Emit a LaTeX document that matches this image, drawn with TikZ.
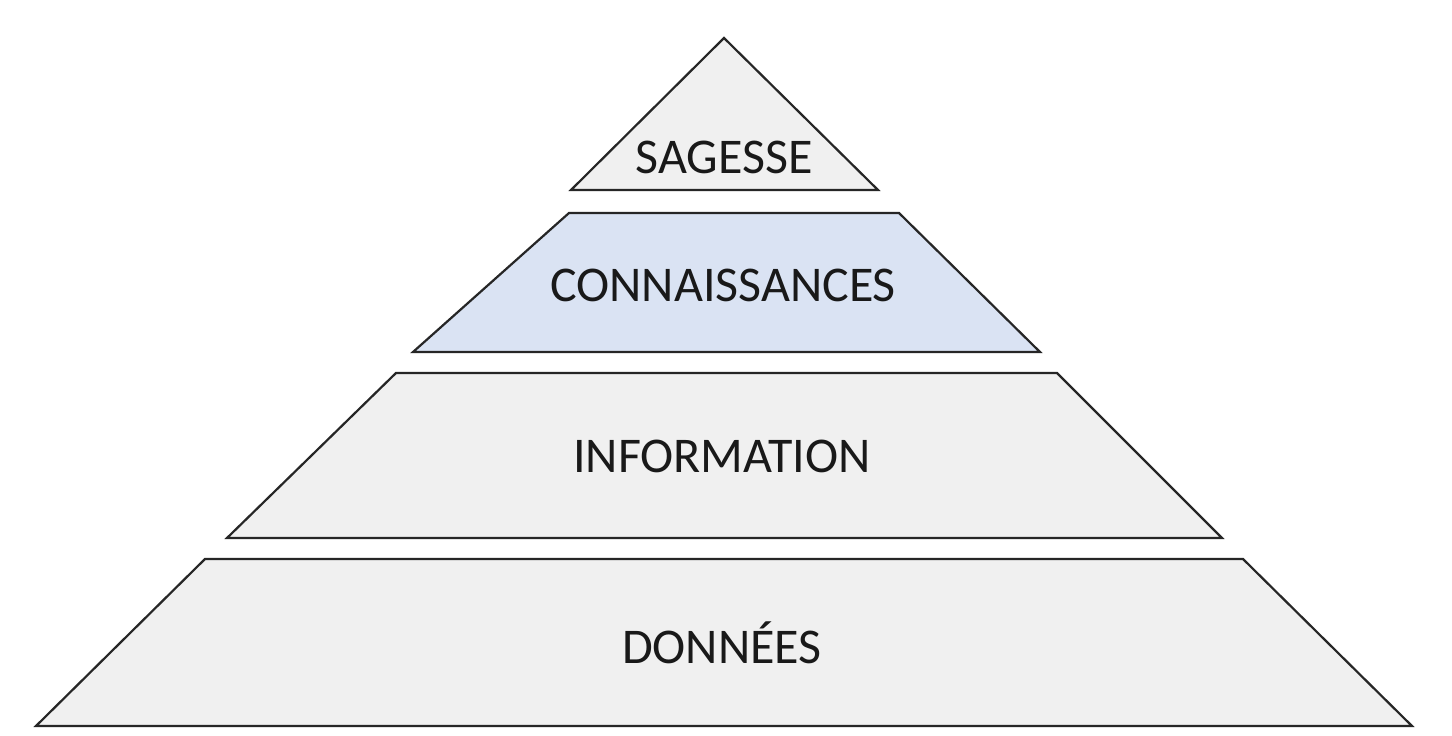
\documentclass[tikz,border=0pt]{standalone}
\usepackage{fontspec}
\setmainfont{Carlito}
\begin{document}
\begin{tikzpicture}[x=1pt,y=-1pt,
  lvl/.style={draw=black!85,line width=2.2pt,line join=miter,fill=gray!12},
  lab/.style={font=\fontsize{50}{50}\selectfont,text=black!90}]
\useasboundingbox[fill=white] (0,0) rectangle (1452,736);
\draw[lvl] (724,38) -- (878,190) -- (571,190) -- cycle;
\draw[lvl,fill={rgb,255:red,218;green,227;blue,243}] (569,213) -- (899,213) -- (1040,352) -- (413,352) -- cycle;
\draw[lvl] (396,373) -- (1057,373) -- (1222,538) -- (227,538) -- cycle;
\draw[lvl] (205,559) -- (1243,559) -- (1412,726) -- (36,726) -- cycle;
\node[lab] (s) at (724,157) {SAGESSE};
\node[lab] (c) at (723,285) {CONNAISSANCES};
\node[lab] (i) at (722,456) {INFORMATION};
\node[lab] (d) at (722,643) {DONNÉES};
\end{tikzpicture}
\end{document}
